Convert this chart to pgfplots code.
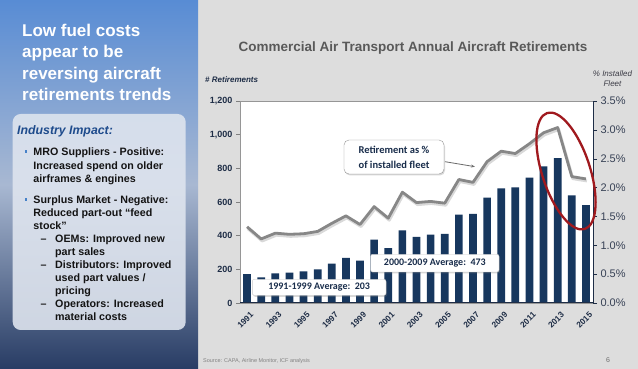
\documentclass[border=0pt]{standalone}
\usepackage{pgfplots}
\pgfplotsset{compat=1.18}
\usepackage{pgfplotstable}
\usepackage{fontspec}
\setmainfont{Liberation Sans}
\newfontfamily\carlito{Carlito}
\usetikzlibrary{arrows.meta,shadows}
\definecolor{slidebg}{RGB}{221,221,221}
\definecolor{barnavy}{RGB}{23,55,94}
\definecolor{linegray}{RGB}{135,135,135}
\definecolor{ticknavy}{RGB}{30,45,70}
\definecolor{ovalred}{RGB}{160,25,30}
\definecolor{titlegray}{RGB}{89,89,89}
\definecolor{panelA}{RGB}{88,140,212}
\definecolor{panelB}{RGB}{168,184,210}
\definecolor{panelC}{RGB}{40,60,100}
\definecolor{boxfill}{RGB}{222,228,238}
\definecolor{impactblue}{RGB}{30,75,140}
\definecolor{bulletblue}{RGB}{70,130,200}
\definecolor{calltext}{RGB}{25,45,75}

\pgfplotstableread{
year ret
1991 172
1992 152
1993 176
1994 180
1995 188
1996 200
1997 234
1998 268
1999 252
2000 377
2001 326
2002 432
2003 393
2004 406
2005 410
2006 525
2007 529
2008 626
2009 681
2010 687
2011 745
2012 812
2013 860
2014 640
2015 582
}\retdata

\pgfplotstableread{
year pct
1991 1.32
1992 1.11
1993 1.21
1994 1.19
1995 1.20
1996 1.24
1997 1.38
1998 1.51
1999 1.36
2000 1.67
2001 1.47
2002 1.92
2003 1.74
2004 1.76
2005 1.73
2006 2.14
2007 2.09
2008 2.45
2009 2.63
2010 2.59
2011 2.76
2012 2.95
2013 3.04
2014 2.19
2015 2.15
}\pctdata

\begin{document}
\begin{tikzpicture}[x=1pt,y=1pt]
\useasboundingbox (0,0) rectangle (638,369);
\fill[slidebg] (0,0) rectangle (638,369);
\shade[top color=panelA, bottom color=panelC, middle color=panelB] (0,0) rectangle (198,369);

% left panel title
\begin{scope}[every node/.style={anchor=base west, inner sep=0pt, text=white, font=\bfseries\fontsize{17}{20}\selectfont}]
\node at (22,332.3) {Low fuel costs};
\node at (22,311) {appear to be};
\node at (22,289.7) {reversing aircraft};
\node at (22,268.3) {retirements trends};
\end{scope}

% impact box
\fill[boxfill, opacity=0.9, rounded corners=8pt] (12.7,39) rectangle (185.7,255);
\node[anchor=base west, inner sep=0pt, text=impactblue, font=\bfseries\itshape\fontsize{12.3}{14}\selectfont] at (17,234.7) {Industry Impact:};

\fill[bulletblue] (24.5,216.2) rectangle (27,218.7);
\fill[bulletblue] (24.5,168) rectangle (27,170.5);
\begin{scope}[every node/.style={anchor=base west, inner sep=0pt, text={rgb,255:red,20;green,20;blue,20}, font=\bfseries\fontsize{10.7}{13}\selectfont}]
\node at (33.3,213) {MRO Suppliers - Positive:};
\node at (33.3,199.7) {Increased spend on older};
\node at (33.3,186.5) {airframes \& engines};
\node at (33.3,165) {Surplus Market - Negative:};
\node at (33.3,152) {Reduced part-out \textquotedblleft feed};
\node at (33.3,139) {stock\textquotedblright};
\node at (40.5,126.7) {\textendash};
\node at (55,126.7) {OEMs: Improved new};
\node at (55,113.5) {part sales};
\node at (40.5,100.3) {\textendash};
\node at (55,100.3) {Distributors: Improved};
\node at (55,87.3) {used part values /};
\node at (55,74.2) {pricing};
\node at (40.5,61.3) {\textendash};
\node at (55,61.3) {Operators: Increased};
\node at (55,48.2) {material costs};
\end{scope}

% chart title and axis captions
\node[anchor=base, inner sep=0pt, text=titlegray, font=\bfseries\fontsize{13.5}{15}\selectfont] at (413,317.3) {Commercial Air Transport Annual Aircraft Retirements};
\node[anchor=base west, inner sep=0pt, text=ticknavy, font=\bfseries\itshape\fontsize{8}{9}\selectfont] at (205,286.3) {\# Retirements};
\node[anchor=base, inner sep=0pt, text={rgb,255:red,60;green,60;blue,70}, font=\itshape\fontsize{8}{9}\selectfont] at (612.5,292.3) {\% Installed};
\node[anchor=base, inner sep=0pt, text={rgb,255:red,60;green,60;blue,70}, font=\itshape\fontsize{8}{9}\selectfont] at (612.5,282.3) {Fleet};

% bars (left axis)
\begin{axis}[
  at={(240pt,66pt)}, anchor=south west,
  width=353pt, height=202pt, scale only axis,
  xmin=1990.5, xmax=2015.5, ymin=0, ymax=1200,
  axis background/.style={fill=white},
  axis line style={draw={rgb,255:red,150;green,150;blue,150}, line width=0.6pt},
  ytick={0,200,...,1200}, ytick pos=left,
  xtick={1991,1993,...,2015}, xtick pos=bottom,
  tick align=outside, major tick length=4pt,
  ytick style={draw=gray, line width=0.5pt},
  xtick style={draw=none},
  /pgf/number format/assume math mode=true,
  yticklabel style={font=\bfseries\fontsize{9}{10}\selectfont, text=ticknavy, /pgf/number format/1000 sep={,}},
  xticklabel style={font=\bfseries\fontsize{8.3}{9}\selectfont, text=ticknavy, rotate=45, anchor=north east, inner sep=1pt, yshift=-4pt, /pgf/number format/1000 sep={}},
  ybar, bar width=7.7pt,
]
\addplot[fill=barnavy, draw=none] table[x=year,y=ret]{\retdata};
\draw[ticknavy, line width=1pt] (axis cs:1990.5,0) -- (axis cs:2015.5,0);
\end{axis}

% line (right axis)
\begin{axis}[
  at={(240pt,66pt)}, anchor=south west,
  width=353pt, height=202pt, scale only axis,
  xmin=1990.5, xmax=2015.5, ymin=0, ymax=3.5,
  axis x line=none, axis y line*=right,
  axis line style={draw=ticknavy, line width=0.8pt},
  ytick={0,0.5,1,1.5,2,2.5,3,3.5},
  tick align=outside, major tick length=4pt,
  ytick style={draw=ticknavy},
  /pgf/number format/assume math mode=true,
  yticklabel={\pgfmathprintnumber[fixed,fixed zerofill,precision=1]{\tick}\%},
  yticklabel style={font=\fontsize{11}{12}\selectfont, text={rgb,255:red,55;green,65;blue,85}},
]
\addplot[draw=black, opacity=0.15, line width=3pt, line join=round, shift={(1pt,-2pt)}] table[x=year,y=pct]{\pctdata};
\addplot[draw=linegray, line width=2.8pt, line join=round] table[x=year,y=pct]{\pctdata};
\end{axis}

% callouts
\node[draw={rgb,255:red,150;green,150;blue,150}, fill=white, rounded corners=5pt, minimum width=100pt, minimum height=34pt, inner sep=0pt, align=center, text=calltext, font=\carlito\bfseries\fontsize{10.5}{15}\selectfont, drop shadow={shadow xshift=1pt, shadow yshift=-1.5pt, opacity=0.3}] at (394,212) {Retirement as \%\\of installed fleet};
\draw[-{Stealth[length=4pt]}, draw={rgb,255:red,110;green,110;blue,110}, line width=0.8pt] (445,207.3) -- (475,202.3);

\node[draw={rgb,255:red,200;green,200;blue,200}, fill=white, rounded corners=2pt, minimum width=128.3pt, minimum height=17.7pt, inner sep=0pt, text=calltext, font=\carlito\bfseries\fontsize{10}{12}\selectfont, drop shadow={shadow xshift=1pt, shadow yshift=-1.5pt, opacity=0.3}] at (434.85,105.85) {2000-2009 Average:\ \ 473};
\node[draw={rgb,255:red,200;green,200;blue,200}, fill=white, rounded corners=2pt, minimum width=133.7pt, minimum height=16pt, inner sep=0pt, text=calltext, font=\carlito\bfseries\fontsize{10}{12}\selectfont, drop shadow={shadow xshift=1pt, shadow yshift=-1.5pt, opacity=0.3}] at (319.15,81.7) {1991-1999 Average:\ \ 203};

% red oval
\draw[ovalred, line width=2.3pt, rotate around={18:(566,198)}] (566,198) ellipse [x radius=24, y radius=61];

% footer
\node[anchor=base west, inner sep=0pt, text={rgb,255:red,130;green,130;blue,130}, font=\fontsize{5.5}{6}\selectfont] at (203,6) {Source: CAPA, Airline Monitor, ICF analysis};
\node[anchor=base west, inner sep=0pt, text={rgb,255:red,110;green,110;blue,110}, font=\fontsize{7}{8}\selectfont] at (606,6) {6};
\end{tikzpicture}
\end{document}
